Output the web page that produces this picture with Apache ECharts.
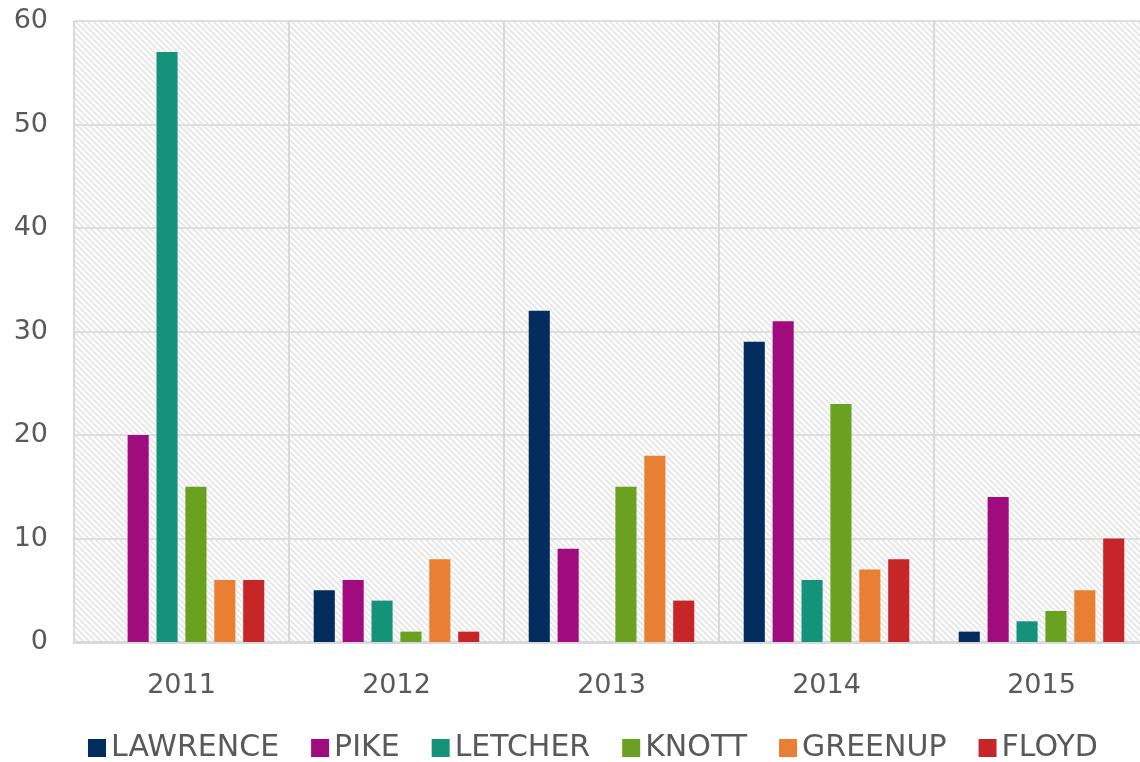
<!DOCTYPE html>
<html>
<head>
<meta charset="utf-8">
<script src="https://cdn.jsdelivr.net/npm/echarts@6/dist/echarts.min.js"></script>
<style>
  html, body { margin: 0; padding: 0; background: #fff; }
  #main { width: 1140px; height: 762px; }
</style>
</head>
<body>
<div id="main"></div>
<script>
// data
const years = ['2011', '2012', '2013', '2014', '2015'];
const lawrence = [0, 5, 32, 29, 1];
const pike = [20, 6, 9, 31, 14];
const letcher = [57, 4, 0, 6, 2];
const knott = [15, 1, 15, 23, 3];
const greenup = [6, 8, 18, 7, 5];
const floyd = [6, 1, 4, 8, 10];

const seriesNames = ['LAWRENCE', 'PIKE', 'LETCHER', 'KNOTT', 'GREENUP', 'FLOYD'];
const seriesData = [lawrence, pike, letcher, knott, greenup, floyd];
const colors = ['#032d5e', '#a00c7e', '#14937a', '#6aa120', '#e87f33', '#c62627'];

// diagonal hatch for the plot background
const tile = document.createElement('canvas');
tile.width = 6;
tile.height = 6;
const ctx = tile.getContext('2d');
ctx.fillStyle = '#fcfcfc';
ctx.fillRect(0, 0, 6, 6);
ctx.strokeStyle = '#e6e6e6';
ctx.lineWidth = 1.6;
ctx.beginPath();
ctx.moveTo(-1, -1); ctx.lineTo(7, 7);
ctx.moveTo(-7, -1); ctx.lineTo(1, 7);
ctx.moveTo(5, -1); ctx.lineTo(13, 7);
ctx.stroke();

const font = '"DejaVu Sans", sans-serif';
const myChart = echarts.init(document.getElementById('main'));
myChart.setOption({
  backgroundColor: '#fff',
  color: colors,
  animation: false,
  textStyle: { fontFamily: font },
  grid: {
    left: 74,
    width: 1075,
    top: 21,
    bottom: 120,
    outerBoundsMode: 'none',
    containLabel: false,
    show: true,
    borderWidth: 0,
    backgroundColor: { image: tile, repeat: 'repeat' },
  },
  legend: {
    data: seriesNames,
    top: 728,
    left: 83,
    icon: 'rect',
    itemWidth: 18,
    itemHeight: 18,
    itemGap: 32,
    textStyle: { fontSize: 30, color: '#595959', fontFamily: font },
  },
  xAxis: {
    type: 'category',
    data: years,
    axisLine: { lineStyle: { color: '#d9d9d9', width: 3 } },
    axisTick: { show: false },
    axisLabel: { fontSize: 27, color: '#595959', margin: 30 },
    splitLine: { show: true, lineStyle: { color: '#d9d9d9', width: 2 } },
  },
  yAxis: {
    type: 'value',
    min: 0,
    max: 60,
    interval: 10,
    axisLine: { show: false },
    axisTick: { show: false },
    axisLabel: { fontSize: 27, color: '#595959', margin: 26 },
    splitLine: { lineStyle: { color: '#dedede', width: 2 } },
  },
  series: seriesNames.map((name, i) => ({
    name: name,
    type: 'bar',
    data: seriesData[i],
    barGap: '37%',
    barCategoryGap: '23%',
    itemStyle: { color: colors[i] },
  })),
});
</script>
</body>
</html>
